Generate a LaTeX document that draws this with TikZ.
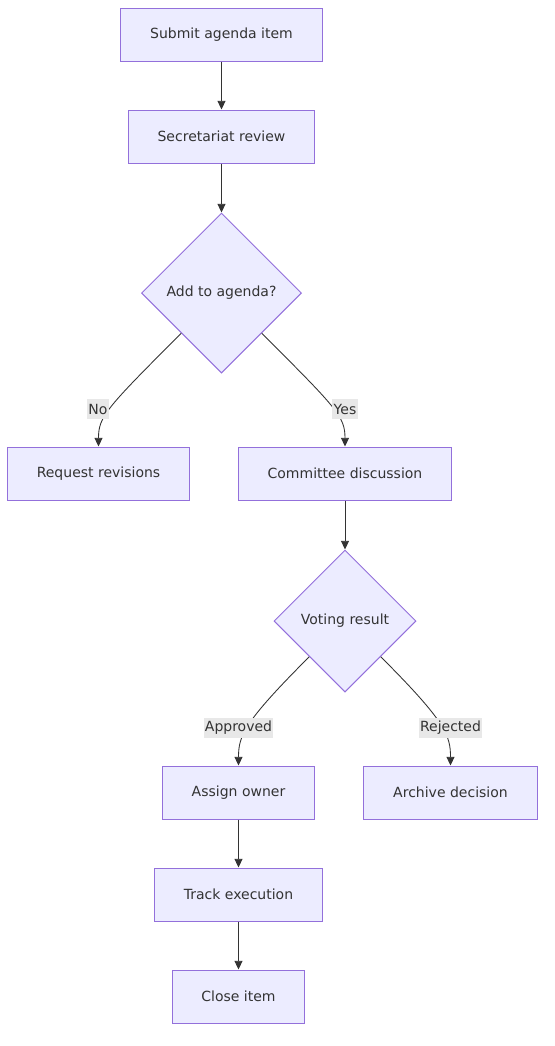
\documentclass[tikz,border=0pt]{standalone}
\usepackage{fontspec}
\setmainfont{DejaVu Sans}
\usetikzlibrary{shapes.geometric,arrows.meta}
\definecolor{boxfill}{HTML}{ECECFF}
\definecolor{boxline}{HTML}{9370DB}
\definecolor{ink}{HTML}{333333}
\definecolor{labelbg}{HTML}{E8E8E8}

\begin{document}
\begin{tikzpicture}[x=0.75pt,y=-0.75pt,font=\fontsize{10.5}{12.6}\selectfont,text=ink]
                      \tikzstyle{stepbox}=[rectangle,draw=boxline,fill=boxfill,line width=0.75pt,minimum height=39.75pt,inner xsep=22pt]
                      \tikzstyle{choice}=[diamond,draw=boxline,fill=boxfill,line width=0.75pt,inner sep=0pt]
                      \tikzstyle{flow}=[draw=ink,line width=0.65pt,-{Triangle[length=6.5pt,width=6pt]}]
                      \tikzstyle{tag}=[fill=labelbg,inner xsep=1pt,inner ysep=0pt,minimum height=15.5pt]
                      \useasboundingbox (0,0) rectangle (554,1046);
                      \node[stepbox] (submit) at (221.5,34.5) {Submit agenda item};
                      \node[stepbox] (review) at (221.5,136.5) {Secretariat review};
                      \node[choice,minimum size=120pt] (add) at (221.5,293) {Add to agenda?};
                      \node[stepbox] (revise) at (98.5,473.5) {Request revisions};
                      \node[stepbox] (discuss) at (345,473.5) {Committee discussion};
                      \node[choice,minimum size=106.5pt] (vote) at (345,621) {Voting result};
                      \node[stepbox] (owner) at (238.5,792.5) {Assign owner};
                      \node[stepbox] (archive) at (450.5,792.5) {Archive decision};
                      \node[stepbox] (track) at (238.5,894.5) {Track execution};
                      \node[stepbox] (close) at (238.5,996.5) {Close item};
                      \draw[flow] (submit) -- (review);
                      \draw[flow] (review) -- (add);
                      \draw[flow] (add.south west) .. controls +(-75,75) and +(0,-30) .. (revise.north);
                      \draw[flow] (add.south east) .. controls +(75,75) and +(0,-30) .. (discuss.north);
                      \draw[flow] (discuss) -- (vote);
                      \draw[flow] (vote.south west) .. controls +(-65,65) and +(0,-30) .. (owner.north);
                      \draw[flow] (vote.south east) .. controls +(65,65) and +(0,-30) .. (archive.north);
                      \draw[flow] (owner) -- (track);
                      \draw[flow] (track) -- (close);
                      \node[tag] (no) at (98,409) {No};
                      \node[tag] (yes) at (345,409) {Yes};
                      \node[tag] (approved) at (238.5,728) {Approved};
                      \node[tag] (rejected) at (450.5,728) {Rejected};
                  \end{tikzpicture}
\end{document}
